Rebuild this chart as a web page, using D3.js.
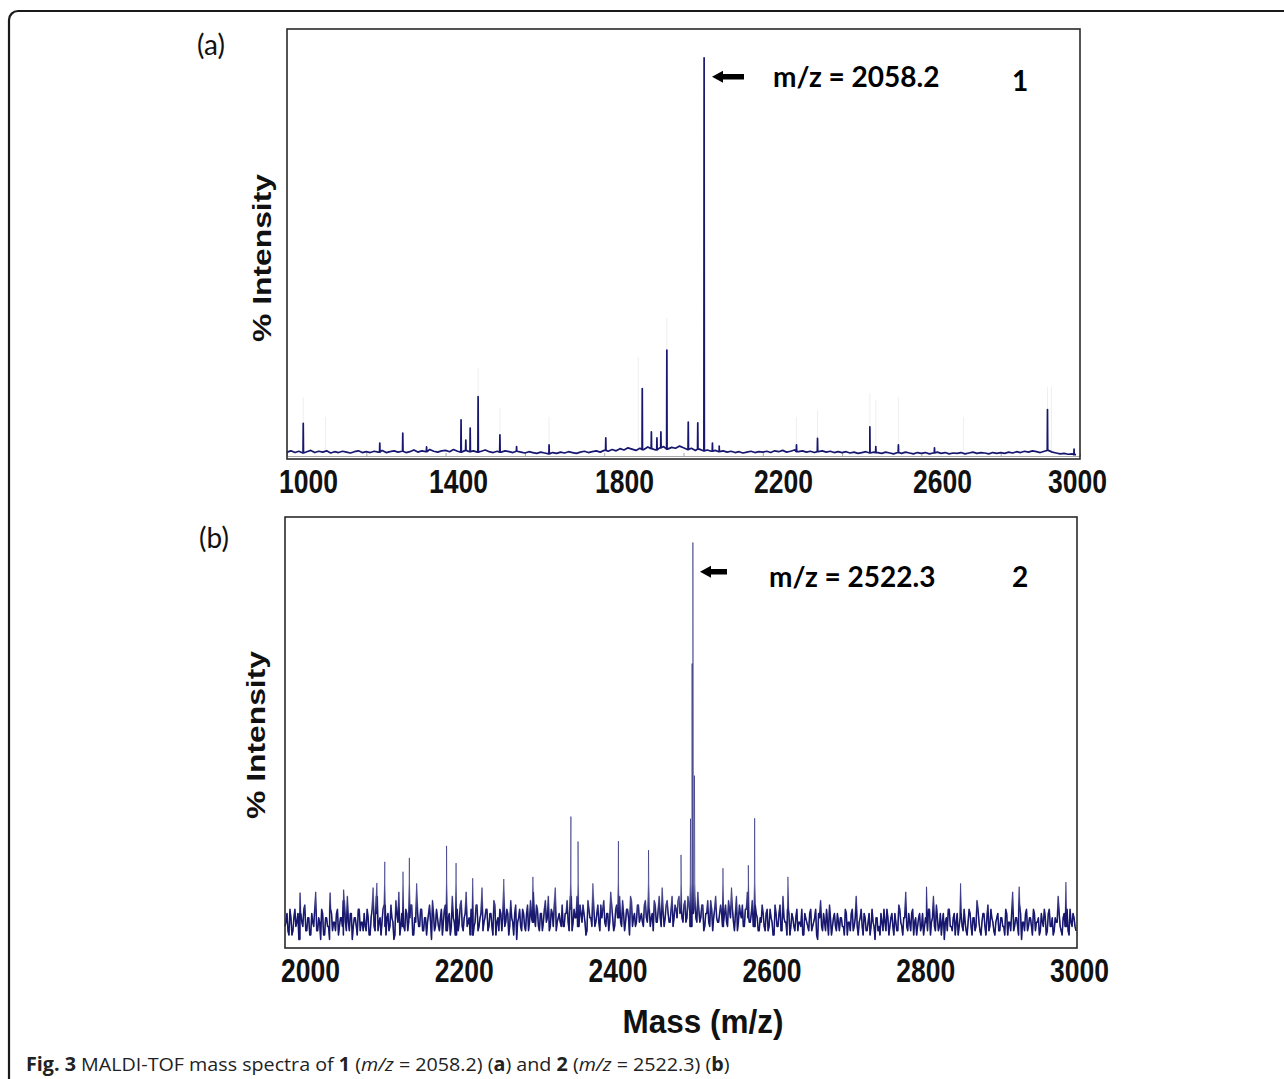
<!DOCTYPE html>
<html>
<head>
<meta charset="utf-8">
<script src="https://cdn.jsdelivr.net/npm/d3@7"></script>
<style>
  html, body { margin: 0; padding: 0; background: #fff; }
  svg { display: block; }
</style>
</head>
<body>
<svg id="fig" width="1284" height="1079"></svg>
<script>
// ---------- data ----------
const massTicksA = [1000, 1400, 1800, 2200, 2600, 3000];
const massTicksB = [2000, 2200, 2400, 2600, 2800, 3000];

// panel (a): baseline sampled every 10 m/z starting at 1000
const baselineA = [
  1.6,1.9,1.5,1.8,1.4,1.7,2.0,1.5,1.8,1.6,1.9,1.4,1.7,1.5,1.8,1.6,1.4,1.7,1.9,1.5,
  1.7,1.5,1.8,1.6,2.0,1.5,1.7,1.9,1.6,1.8,1.5,1.7,2.1,1.6,1.9,1.7,2.2,1.8,1.6,1.9,
  2.0,1.7,2.2,1.8,1.6,2.0,1.7,1.9,1.6,1.8,2.1,1.7,1.5,1.8,1.6,1.9,1.7,1.5,1.8,1.6,
  1.4,1.7,1.5,1.3,1.6,1.4,1.2,1.5,1.3,1.6,1.4,1.7,1.5,1.3,1.6,1.8,1.5,1.7,1.9,1.6,
  2.0,1.8,2.2,1.9,2.4,2.1,2.6,2.3,2.0,2.5,2.2,2.8,2.4,2.1,2.6,2.9,2.3,2.7,2.5,3.0,
  2.6,2.2,2.5,2.0,2.3,1.9,2.1,1.8,2.0,1.7,1.9,1.6,1.8,1.5,1.7,1.4,1.6,1.8,1.5,1.7,
  1.6,1.8,1.5,1.9,1.7,2.0,1.6,1.8,2.1,1.7,1.9,1.6,1.8,1.5,1.7,1.9,1.6,1.8,1.5,1.7,
  1.5,1.7,1.4,1.6,1.3,1.5,1.7,1.4,1.6,1.5,1.3,1.6,1.4,1.2,1.5,1.3,1.6,1.4,1.2,1.5,
  1.3,1.5,1.2,1.4,1.6,1.3,1.5,1.2,1.4,1.3,1.5,1.2,1.4,1.6,1.3,1.5,1.4,1.2,1.5,1.3,
  1.5,1.3,1.6,1.4,1.7,1.5,1.8,1.6,1.9,1.7,1.5,1.8,2.0,1.6,1.4,1.2,1.3,1.1,1.2,1.0
];
// [m/z, % intensity]
const peaksA = [
  [1041, 8.3], [1234, 3.7], [1292, 6.0], [1352, 2.8], [1439, 9.1], [1451, 4.4],
  [1462, 7.2], [1482, 14.5], [1537, 5.6], [1579, 2.9], [1661, 3.3], [1804, 4.9],
  [1896, 16.4], [1919, 6.3], [1933, 4.9], [1943, 6.3], [1958, 25.3], [2012, 8.6],
  [2036, 8.4], [2052, 93.3], [2073, 3.7], [2090, 3.0], [2285, 3.3], [2338, 4.8],
  [2470, 7.5], [2485, 2.9], [2542, 3.3], [2633, 2.6], [2918, 11.5], [2985, 2.3]
];
// faint grey traces above some peaks
const ghostA = [
  [1041, 14.4], [1097, 9.8], [1482, 21.2], [1537, 11.9], [1661, 9.8], [1886, 23.7],
  [1958, 32.8], [2285, 9.8], [2338, 11.4], [2470, 15.3], [2485, 13.7], [2542, 14.4],
  [2706, 9.8], [2918, 16.7], [2928, 16.7]
];

// panel (b): noisy trace, samples every 2.5 m/z from 2000 ...
const noiseB = [
  5,8,3,7,4,9,6,2,8,5,10,4,7,3,6,9,4,7,2,8,
  3,7,5,9,4,6,8,3,7,5,11,4,6,8,2,7,5,9,4,6,
  8,4,7,3,9,5,12,4,7,6,10,3,8,5,7,2,11,6,3,8,
  5,9,4,7,10,3,6,8,5,9,4,7,6,10,2,8,5,7,4,9,
  6,10,4,8,5,7,3,9,6,11,4,8,5,7,9,3,6,10,5,8,
  4,7,9,5,8,3,10,6,4,8,7,5,9,3,11,6,8,2,7,5,
  9,5,8,4,11,6,7,10,5,8,4,9,6,12,5,8,10,4,7,6,
  10,5,8,6,12,4,9,7,5,10,6,8,3,11,7,5,9,6,10,4,
  7,11,5,8,6,10,4,9,7,12,5,8,6,9,3,11,7,5,10,6,
  8,5,11,6,9,7,4,10,6,12,5,8,7,11,6,9,5,10,7,12,
  9,6,11,7,10,5,8,12,6,9,7,10,5,8,6,11,4,9,7,6,
  10,5,8,6,11,7,9,4,12,6,8,10,5,9,7,6,11,5,8,4,
  7,10,5,8,4,9,6,3,8,5,10,4,7,6,9,3,8,5,7,4,
  6,9,3,7,5,8,4,6,9,2,7,5,8,4,6,10,3,7,5,8,
  4,7,5,9,3,6,8,4,7,5,6,9,3,7,4,8,5,6,2,7,
  5,8,4,6,9,3,7,5,8,4,10,6,3,7,5,8,4,9,6,3,
  7,4,8,5,6,9,3,7,5,10,4,8,6,2,7,9,5,4,8,6,
  3,7,5,9,4,6,8,3,7,5,9,4,6,8,3,10,5,7,4,6,
  8,4,7,5,9,3,6,8,4,7,5,10,2,6,8,4,7,5,9,4,
  6,3,8,5,7,4,9,5,3,7,6,8,4,7,5,9,3,6,8,5
];
// ... and the samples in between (2001.25, 2003.75, ...)
const noiseBMid = [
  6,4,9,3,7,5,8,2,6,9,4,7,3,8,5,13,4,6,9,3,
  7,5,2,8,6,4,9,5,7,3,6,12,4,8,5,7,3,9,6,4,
  5,9,3,7,14,4,8,6,3,9,5,7,4,10,6,3,8,13,5,7,
  4,8,6,10,3,7,15,5,9,4,7,3,8,6,11,4,9,5,7,3,
  9,5,7,3,12,6,8,4,10,5,7,13,6,3,8,5,10,4,7,14,
  6,9,4,8,5,11,3,7,9,4,16,6,8,5,7,3,10,6,9,4,
  8,4,10,6,7,13,5,9,4,8,6,11,7,4,9,5,14,6,8,5,
  5,8,11,4,9,6,7,12,5,8,10,6,4,9,7,15,5,8,6,10,
  9,6,8,4,13,7,5,10,8,6,11,4,9,7,12,5,8,6,10,7,
  6,10,7,13,5,8,11,6,9,7,14,5,10,8,6,12,7,9,11,8,
  7,10,6,12,8,5,9,7,13,6,10,4,8,11,5,9,7,12,6,8,
  8,6,10,5,9,14,6,8,4,10,7,5,9,13,6,8,5,10,7,4,
  6,8,4,9,5,7,3,10,5,8,4,12,6,3,8,5,7,4,9,6,
  5,3,8,6,4,9,5,7,3,8,11,4,6,9,3,7,5,8,4,6,
  7,5,3,8,6,4,9,5,12,3,7,5,8,4,6,3,9,5,7,4,
  3,6,9,4,7,5,8,3,6,4,9,5,7,13,4,6,8,3,7,5,
  8,5,3,7,4,9,6,12,4,7,5,3,8,6,4,9,5,7,3,8,
  5,8,4,6,3,9,5,7,4,11,6,3,8,5,7,4,9,6,3,7,
  4,7,5,3,8,6,4,13,5,7,3,8,6,4,9,5,7,3,8,6,
  7,4,6,9,3,8,5,7,4,6,12,5,3,8,6,4,9,5,7,4
];
const peaksB = [
  [2019, 12.8], [2057, 12.8], [2074, 13.5], [2116, 15.1], [2126, 20.0], [2149, 17.7],
  [2157, 20.9], [2204, 23.7], [2216, 19.7], [2237, 16.2], [2313, 16.5], [2361, 30.5],
  [2370, 24.7], [2421, 24.8], [2459, 22.7], [2500, 21.6], [2512, 30.0], [2514, 66.0],
  [2515, 94.1], [2517, 40.0], [2553, 18.5], [2585, 19.2], [2593, 30.1], [2635, 16.5],
  [2810, 14.2], [2853, 15.0], [2927, 14.2], [2986, 15.3]
];

const panelTags = ["(a)", "(b)"];
const peakLabels = ["m/z = 2058.2", "m/z = 2522.3"];
const compoundIds = ["1", "2"];

// ---------- layout ----------
const CONSTANT = {
  TR: "transform",
  TS: (x, y) => `translate(${[x, y]})`,
  NAVY: "#17176f",
  BOLD_NARROW: "'Liberation Sans Narrow', 'Arial Narrow', 'Liberation Sans', Arial, sans-serif",
  SANS: "'Liberation Sans', Arial, sans-serif",
  CAL: "Lato, 'Open Sans', sans-serif"
};

const panels = [
  {
    key: "a", left: 287, top: 29, width: 793, height: 430,
    domain: [1000, 3000],
    samples: [{ start: 1000, step: 10, values: baselineA }],
    peaks: peaksA, ghost: ghostA, innerAxis: true,
    ticks: massTicksA,
    // pasted tick labels are not evenly spaced in the original
    tickPos: [21, 171, 337, 496, 655, 790],
    tag: panelTags[0], tagXY: [211, 44],
    ylab: [262, 258],
    arrow: [425, 457, 47.7], label: peakLabels[0], labelXY: [486, 57.7],
    id: compoundIds[0], idXY: [733, 62],
    lightW: 1.7, lightOp: 1, body: null
  },
  {
    key: "b", left: 285, top: 517, width: 792, height: 431,
    domain: [2000, 3000],
    samples: [
      { start: 2000, step: 2.5, values: noiseB },
      { start: 2001.25, step: 2.5, values: noiseBMid }
    ],
    peaks: peaksB, ghost: [], innerAxis: false,
    ticks: massTicksB,
    tickPos: [25, 794],
    tag: panelTags[1], tagXY: [214, 537],
    ylab: [256, 735],
    arrow: [415, 442, 54.7], label: peakLabels[1], labelXY: [484, 70.3],
    id: compoundIds[1], idXY: [735, 70],
    lightW: 1, lightOp: 0.55, body: [8, 15]   // dark below 8 %, fading out by 15 %
  }
];

const svg = d3.select("#fig");
const defs = svg.append("defs");

// outer frame: left and top edges with rounded corner
svg.append("path")
  .attr("d", "M9,1079 V20 A9,9 0 0 1 18,11 H1284")
  .attr("fill", "none")
  .attr("stroke", "#1a1a1a")
  .attr("stroke-width", 2.2);

function buildTrace(p) {
  const main = p.samples[0];
  const pts = p.samples.flatMap(s => s.values.map((v, i) => [s.start + i * s.step, v]));
  const flank = 0.6;
  p.peaks.forEach(([mz, v]) => {
    const k = Math.min(main.values.length - 1, Math.max(0, Math.round((mz - main.start) / main.step)));
    pts.push([mz - flank, main.values[k]], [mz, v], [mz + flank, main.values[k]]);
  });
  return pts.sort((a, b) => a[0] - b[0]);
}

panels.forEach(p => {
  const g = svg.append("g").attr(CONSTANT.TR, CONSTANT.TS(p.left, p.top));
  const x = d3.scaleLinear().domain(p.domain).range([0, p.width]);
  const y = d3.scaleLinear().domain([0, 100]).range([p.height, 0]);

  // faint ghost traces
  g.append("g")
    .selectAll("line")
    .data(p.ghost)
    .join("line")
    .attr("x1", d => x(d[0])).attr("x2", d => x(d[0]))
    .attr("y1", y(2)).attr("y2", d => y(d[1]))
    .attr("stroke", "#efefef")
    .attr("stroke-width", 1);

  // instrument axis inside the frame (small ticks every 200)
  if (p.innerAxis) {
    const ax = g.append("g")
      .attr(CONSTANT.TR, CONSTANT.TS(0, p.height - 3))
      .call(d3.axisBottom(x).tickValues(d3.range(p.domain[0], p.domain[1] + 1, 200))
        .tickSize(-3).tickSizeOuter(0).tickFormat(""));
    ax.select(".domain").attr("stroke", "#a8a8a8");
    ax.selectAll(".tick line").attr("stroke", "#a8a8a8");
  }

  // spectrum
  const trace = buildTrace(p);
  const line = d3.line().x(d => x(d[0])).y(d => y(d[1]));
  g.append("path")
    .datum(trace)
    .attr("d", line)
    .attr("fill", "none")
    .attr("stroke", CONSTANT.NAVY)
    .attr("stroke-opacity", p.lightOp)
    .attr("stroke-width", p.lightW)
    .attr("stroke-linejoin", "round");

  // dense dark body of the noise band, faded out upward with a mask
  if (p.body) {
    const gradId = "fade-" + p.key;
    const grad = defs.append("linearGradient")
      .attr("id", gradId)
      .attr("gradientUnits", "userSpaceOnUse")
      .attr("x1", 0).attr("x2", 0)
      .attr("y1", y(p.body[0])).attr("y2", y(p.body[1]));
    grad.append("stop").attr("offset", 0).attr("stop-color", "#fff");
    grad.append("stop").attr("offset", 1).attr("stop-color", "#000");
    defs.append("mask").attr("id", "body-" + p.key)
      .attr("maskUnits", "userSpaceOnUse")
      .attr("x", -5).attr("y", -5).attr("width", p.width + 10).attr("height", p.height + 10)
      .append("rect")
      .attr("x", -5).attr("y", -5)
      .attr("width", p.width + 10).attr("height", p.height + 10)
      .attr("fill", `url(#${gradId})`);
    g.append("path")
      .datum(trace)
      .attr("d", line)
      .attr("mask", `url(#body-${p.key})`)
      .attr("fill", "none")
      .attr("stroke", CONSTANT.NAVY)
      .attr("stroke-width", 1.5)
      .attr("stroke-linejoin", "round");
  }

  // frame of the plot
  g.append("rect")
    .attr("width", p.width).attr("height", p.height)
    .attr("fill", "none")
    .attr("stroke", "#2a2a2a")
    .attr("stroke-width", 1.6);

  // bold tick labels
  const labelScale = d3.scaleLinear()
    .domain(p.tickPos.length === 2 ? [p.ticks[0], p.ticks[p.ticks.length - 1]] : p.ticks)
    .range(p.tickPos);
  const la = g.append("g")
    .attr(CONSTANT.TR, CONSTANT.TS(0, p.height))
    .call(d3.axisBottom(labelScale).tickValues(p.ticks).tickSize(0).tickFormat(d3.format("d")));
  la.select(".domain").remove();
  la.selectAll("text")
    .attr("dy", null)
    .attr("y", 34)
    .attr("fill", "#111")
    .attr("font-family", CONSTANT.BOLD_NARROW)
    .attr("font-weight", "bold")
    .attr("font-size", 33)
    .attr("textLength", 59)
    .attr("lengthAdjust", "spacingAndGlyphs");

  // y title
  svg.append("text")
    .attr(CONSTANT.TR, `translate(${p.ylab}) rotate(-90)`)
    .attr("text-anchor", "middle")
    .attr("dominant-baseline", "central")
    .attr("font-family", CONSTANT.SANS)
    .attr("font-weight", "bold")
    .attr("font-size", 25)
    .attr("textLength", 168)
    .attr("lengthAdjust", "spacingAndGlyphs")
    .attr("fill", "#111")
    .text("% Intensity");

  // panel tag
  svg.append("text")
    .attr("x", p.tagXY[0]).attr("y", p.tagXY[1])
    .attr("text-anchor", "middle")
    .attr("dominant-baseline", "central")
    .attr("font-family", CONSTANT.CAL)
    .attr("font-size", 28)
    .attr("fill", "#111")
    .text(p.tag);

  // arrow pointing to the main peak
  const [a0, a1, ay] = p.arrow;
  g.append("path")
    .attr("d", `M${a0},${ay} L${a0 + 11},${ay - 6} V${ay - 2.8} H${a1} V${ay + 2.8} H${a0 + 11} V${ay + 6} Z`)
    .attr("fill", "#000");

  g.append("text")
    .attr("x", p.labelXY[0]).attr("y", p.labelXY[1])
    .attr("font-family", CONSTANT.CAL)
    .attr("font-weight", "bold")
    .attr("font-size", 28)
    .attr("fill", "#000")
    .text(p.label);

  g.append("text")
    .attr("x", p.idXY[0]).attr("y", p.idXY[1])
    .attr("text-anchor", "middle")
    .attr("font-family", CONSTANT.CAL)
    .attr("font-weight", "bold")
    .attr("font-size", 28)
    .attr("fill", "#000")
    .text(p.id);
});

// shared x title
svg.append("text")
  .attr("x", 703).attr("y", 1033)
  .attr("text-anchor", "middle")
  .attr("font-family", CONSTANT.BOLD_NARROW)
  .attr("font-weight", "bold")
  .attr("font-size", 34)
  .attr("textLength", 161)
  .attr("lengthAdjust", "spacingAndGlyphs")
  .attr("fill", "#111")
  .text("Mass (m/z)");

// caption
const captionParts = [
  ["Fig. 3", "bold", "normal"], [" MALDI-TOF mass spectra of ", "normal", "normal"],
  ["1", "bold", "normal"], [" (", "normal", "normal"], ["m/z", "normal", "italic"],
  [" = 2058.2) (", "normal", "normal"], ["a", "bold", "normal"], [") and ", "normal", "normal"],
  ["2", "bold", "normal"], [" (", "normal", "normal"], ["m/z", "normal", "italic"],
  [" = 2522.3) (", "normal", "normal"], ["b", "bold", "normal"], [")", "normal", "normal"]
];
const cap = svg.append("text")
  .attr("x", 0).attr("y", 0)
  .attr("font-family", "'Liberation Sans Narrow', 'Open Sans', sans-serif")
  .attr("font-size", 19)
  .attr("fill", "#222");
cap.selectAll("tspan")
  .data(captionParts)
  .join("tspan")
  .attr("font-weight", d => d[1])
  .attr("font-style", d => d[2])
  .text(d => d[0]);
const capW = cap.node().getComputedTextLength();
cap.attr(CONSTANT.TR, `translate(26,1071) scale(${704 / capW},1)`);
</script>
</body>
</html>
